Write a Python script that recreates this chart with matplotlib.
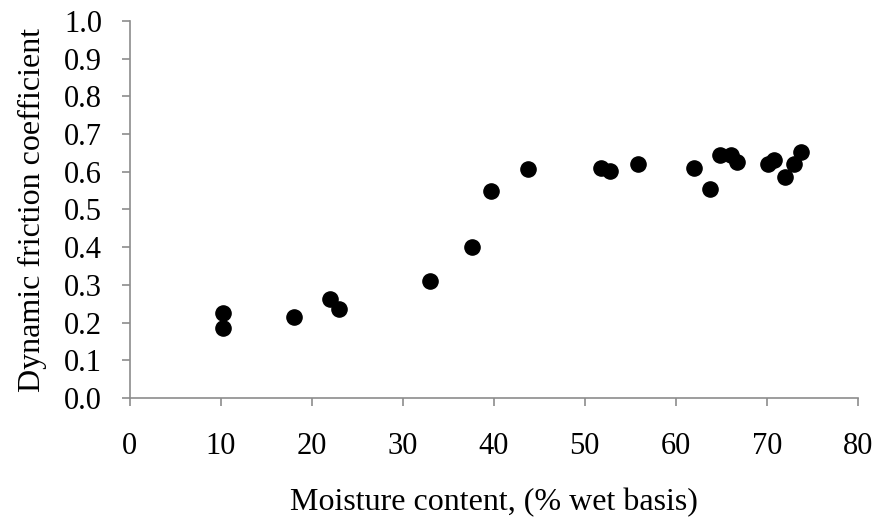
import numpy as np
import matplotlib
matplotlib.use('Agg')
import matplotlib.pyplot as plt

moisture = [10.2, 10.2, 18.1, 22.0, 23.0, 33.0, 37.6, 39.7, 43.8, 51.8, 52.8,
            55.9, 62.0, 63.8, 64.9, 66.1, 66.7, 70.1, 70.8, 72.0, 73.0, 73.8]
friction = [0.225, 0.186, 0.214, 0.262, 0.237, 0.309, 0.400, 0.549, 0.606,
            0.611, 0.602, 0.621, 0.611, 0.553, 0.645, 0.644, 0.625, 0.621,
            0.630, 0.587, 0.621, 0.653]

plt.rcParams['font.family'] = ['Liberation Serif', 'DejaVu Serif']

fig = plt.figure(figsize=(8.77, 5.21), dpi=100)
ax = fig.add_axes([0.148, 0.236, 0.83, 0.724])
ax.scatter(moisture, friction, s=120, color='black', zorder=3)

ax.set_xlim(0, 80)
ax.set_ylim(0, 1.0)
ax.set_xticks(np.arange(0, 81, 10))
ax.set_yticks(np.arange(0, 1.01, 0.1))
ax.set_yticklabels(['%.1f' % v for v in np.arange(0, 1.01, 0.1)])

for s in ['top', 'right']:
    ax.spines[s].set_visible(False)
for s in ['left', 'bottom']:
    ax.spines[s].set_color('#8c8c8c')
    ax.spines[s].set_linewidth(1.2)
ax.tick_params(axis='both', colors='#8c8c8c', labelcolor='black',
               labelsize=22, length=6, width=1.2)
ax.tick_params(axis='x', pad=18.5)
ax.tick_params(axis='y', pad=14)

ax.set_xlabel('Moisture content, (% wet basis)', fontsize=23, labelpad=19)
ax.set_ylabel('Dynamic friction coefficient', fontsize=23, labelpad=12)

fig.savefig('out.png', dpi=100)
